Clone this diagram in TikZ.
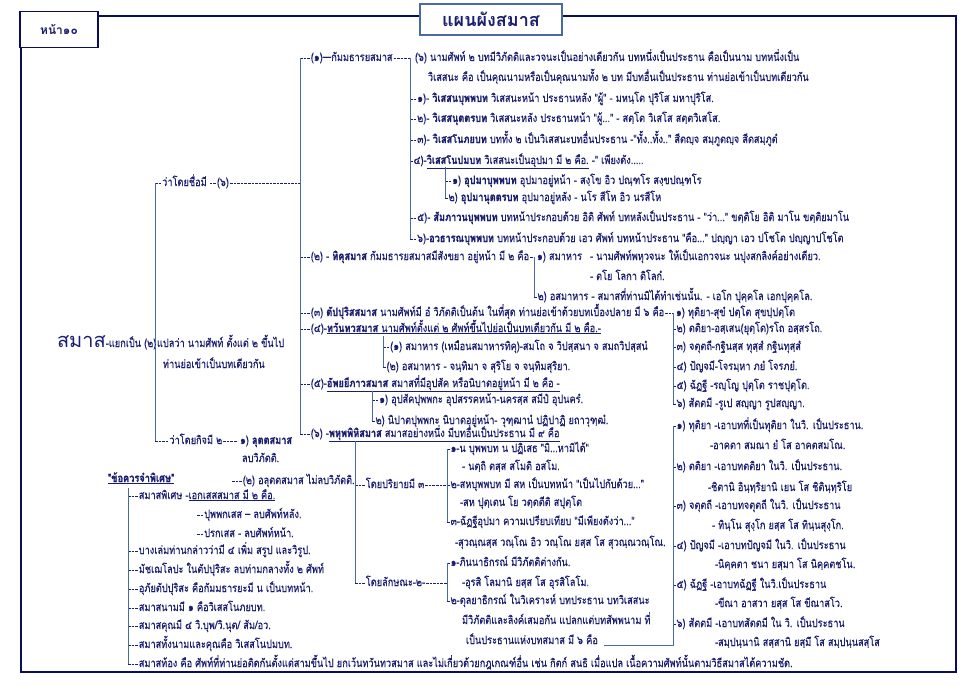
\documentclass[tikz,border=0pt]{standalone}
\usepackage{fontspec}
\usetikzlibrary{calc}
\newfontfamily\thaif[Script=Thai,FakeStretch=0.8,UprightFeatures={FakeBold=0.3},BoldFeatures={FakeBold=0.7}]{Loma}
\newfontfamily\thaiw[Script=Thai]{Loma}
\definecolor{ink}{RGB}{26,30,112}
\definecolor{navy}{RGB}{12,12,92}
\definecolor{steel}{RGB}{75,105,165}
\ExplSyntaxOn
\cs_new:Npn \hyn #1 {\prg_replicate:nn{#1}{\rule[2.7pt]{2.6pt}{0.7pt}\kern1pt}}
\ExplSyntaxOff
\tikzset{
 txb/.style={anchor=base west, inner sep=0pt, outer sep=0pt, text=ink, font=\thaif\fontsize{11.5}{13}\selectfont},
 tx/.style={txb, yshift=-4pt},
 br/.style={draw=steel, line width=0.9pt},
 hd/.style={draw=ink, line width=0.7pt, dash pattern=on 2.6pt off 1pt},
 frm/.style={draw=navy, line width=1.6pt},
}
\begin{document}
\begin{tikzpicture}[x=1pt,y=-1pt]
\useasboundingbox[fill=white] (0,0) rectangle (969,690);
% header and frame
\node[draw=navy, line width=1.5pt, minimum width=78pt, minimum height=36pt, inner sep=0pt, text=ink, font=\thaiw\bfseries\fontsize{12}{14}\selectfont] (pg) at (59,29.5) {หน้า๑๐};
\node[draw=steel, line width=2pt, fill=white, minimum width=142pt, minimum height=31pt, inner sep=0pt, text=ink, font=\thaiw\bfseries\fontsize{18}{20}\selectfont] (ttl) at (491,19.5) {แผนผังสมาส};
\draw[frm] (pg.east |- 0,16) -- (ttl.west |- 0,16);
\draw[frm] (ttl.east |- 0,16) -- (956,16) -- (956,672) -- ($(pg.south west |- 0,672)+(2,0)$) -- ($(pg.south west)+(2,0)$);

% left root
\node[tx, font=\thaiw\fontsize{20}{22}\selectfont] (s0) at (57,343) {สมาส};
\node[txb] (s1) at (s0.base east) {-แยกเป็น (๒)};
\node[tx] (a1) at (155,182) {\hyn{2}ว่าโดยชื่อมี \hyn{2}(๖)};
\node[tx] (s2) at (157,343) {แปลว่า นามศัพท์ ตั้งแต่ ๒ ขึ้นไป};
\node[tx] (s3) at (163,364) {ท่านย่อเข้าเป็นบทเดียวกัน};
\node[tx] (a2) at (155,440) {\hyn{4}ว่าโดยกิจมี ๒};
\node[tx] (l1) at (240,440) {๑) \textbf{ลุตตสมาส}};
\node[tx] (l1b) at (242,458) {ลบวิภัตติ.};
\node[tx] (l2) at (232,480) {\hyn{3}(๒) อลุตตสมาส ไม่ลบวิภัตติ.};
\draw[br] ($(a1.base west)+(0,-3)$) -- ($(a2.base west)+(0,-3)$);
\draw[hd] ($(s1.base east)+(0,-3)$) -- ($(a1.base west |- s1.base)+(0,-3)$);
\draw[hd] ($(a2.base east)+(1,-3)$) -- ($(l1.base west)+(-3,-3)$);

% main branches
\node[tx] (g1) at (300,57) {\hyn{3}(๑)—กัมมธารยสมาส};
\node[tx] (g2) at (300,256) {\hyn{3}(๒) - \textbf{ทิคุสมาส} กัมมธารยสมาสมีสังขยา อยู่หน้า มี ๒ คือ};
\node[tx] (g3) at (300,312) {\hyn{3}(๓) \textbf{ตัปปุริสสมาส} นามศัพท์มี อํ วิภัตติเป็นต้น ในที่สุด ท่านย่อเข้าด้วยบทเบื้องปลาย มี ๖ คือ};
\node[tx] (g4) at (300,328) {\hyn{3}(๔)-\underline{\textbf{ทวันทวสมาส}  นามศัพท์ตั้งแต่ ๒ ศัพท์ขึ้นไปย่อเป็นบทเดียวกัน  มี ๒ คือ.-}};
\node[tx] (g5) at (300,383) {\hyn{3}(๕)-\underline{\textbf{อัพยยีภาวสมาส} สมาสที่มีอุปสัค หรือนิบาตอยู่หน้า มี ๒ คือ -}};
\node[tx] (g6) at (300,433) {\hyn{3}(๖) -\underline{\textbf{พหุพพิหิสมาส} สมาสอย่างหนึ่ง มีบทอื่นเป็นประธาน มี ๙ คือ}};
\draw[br] ($(g1.base west)+(0,-3)$) -- ($(g6.base west)+(0,-3)$);
\draw[hd] ($(a1.base east)+(1,-3)$) -- ($(g1.base west |- a1.base)+(0,-3)$);

% kammadharaya
\node[tx] (k0) at (415,57) {(๖) นามศัพท์ ๒ บทมีวิภัตติและวจนะเป็นอย่างเดียวกัน  บทหนึ่งเป็นประธาน  คือเป็นนาม บทหนึ่งเป็น};
\node[tx] (k0b) at (428,77) {วิเสสนะ คือ เป็นคุณนามหรือเป็นคุณนามทั้ง  ๒ บท มีบทอื่นเป็นประธาน  ท่านย่อเข้าเป็นบทเดียวกัน};
\node[tx] (k1) at (410,98) {\hyn{2}๑)- \textbf{วิเสสนบุพพบท} วิเสสนะหน้า ประธานหลัง "ผู้" - มหนฺโต ปุริโส มหาปุริโส.};
\node[tx] (k2) at (410,118) {\hyn{2}๒)- \textbf{วิเสสนุตตรบท} วิเสสนะหลัง ประธานหน้า "ผู้..." - สตฺโต วิเสโส สตฺตวิเสโส.};
\node[tx] (k3) at (410,139) {\hyn{2}๓)- \textbf{วิเสสโนภยบท} บททั้ง ๒ เป็นวิเสสนะบทอื่นประธาน  -"ทั้ง..ทั้ง.."  สีตญฺจ สมฺภูตญฺจ สีตสมฺภูตํ};
\node[tx] (k4) at (410,160) {\hyn{1}๔)-\underline{\textbf{วิเสสโนปมบท}  วิเสสนะเป็นอุปมา มี ๒ คือ.} -" เพียงดัง.....};
\node[tx] (k41) at (445,180) {\hyn{2}๑) \textbf{อุปมาบุพพบท}  อุปมาอยู่หน้า - สงฺโข อิว ปณฺฑโร  สงฺขปณฺฑโร};
\node[tx] (k42) at (445,197) {\hyn{1}๒) \textbf{อุปมานุตตรบท}  อุปมาอยู่หลัง - นโร สีโห อิว นรสีโห};
\node[tx] (k5) at (410,217) {\hyn{2}๕)- \textbf{สัมภาวนบุพพบท} บทหน้าประกอบด้วย อิติ ศัพท์ บทหลังเป็นประธาน  - "ว่า..." ขตฺติโย อิติ มาโน ขตฺติยมาโน};
\node[tx] (k6) at (410,238) {\hyn{2}๖)-\textbf{อวธารณบุพพบท}  บทหน้าประกอบด้วย เอว ศัพท์  บทหน้าประธาน  "คือ..." ปญฺญา เอว ปโชโต ปญฺญาปโชโต};
\draw[hd] ($(g1.base east)+(1,-3)$) -- ($(k1.base west |- g1.base)+(0,-3)$);
\draw[br] ($(k1.base west |- g1.base)+(0,-3)$) -- ($(k6.base west)+(0,-3)$);
\draw[br] ($(k41.base west |- k4.base)+(0,3)$) -- ($(k42.base west)+(0,-3)$);

% digu
\node[tx] (d1) at (537,256) {๑) สมาหาร};
\node[tx] (d1b) at (590,256) {- นามศัพท์พหุวจนะ  ให้เป็นเอกวจนะ  นปุงสกลิงค์อย่างเดียว.};
\node[tx] (d1c) at (590,276) {- ตโย โลกา ติโลกํ.};
\node[tx] (d2) at (534,296) {\hyn{1}๒) อสมาหาร - สมาสที่ท่านมิได้ทำเช่นนั้น.  - เอโก ปุคฺคโล เอกปุคฺคโล.};
\draw[hd] ($(g2.base east)+(1,-3)$) -- ($(d2.base west |- g2.base)+(0,-3)$);
\draw[br] ($(d2.base west |- g2.base)+(0,-3)$) -- ($(d2.base west)+(0,-3)$);

% tappurisa
\node[tx] (t1) at (676,312) {๑) ทุติยา-สุขํ ปตฺโต สุขปฺปตฺโต};
\node[tx] (t2) at (673,328) {\hyn{1}๒) ตติยา-อสฺเสน(ยุตฺโต)รโถ อสฺสรโถ.};
\node[tx] (t3) at (673,346) {\hyn{1}๓) จตุตถี-กฐินสฺส ทุสฺสํ กฐินทุสฺสํ};
\node[tx] (t4) at (673,366) {\hyn{1}๔) ปัญจมี-โจรมฺหา ภยํ โจรภยํ.};
\node[tx] (t5) at (673,385) {\hyn{1}๕) ฉัฏฐี -รญฺโญ ปุตฺโต ราชปุตฺโต.};
\node[tx] (t6) at (673,403) {\hyn{1}๖) สัตตมี -รูเป สญฺญา รูปสญฺญา.};
\draw[hd] ($(g3.base east)+(1,-3)$) -- ($(t1.base west)+(-2,-3)$);
\draw[br] ($(t2.base west |- t1.base)+(0,-3)$) -- ($(t6.base west)+(0,-3)$);

% dvanda
\node[tx] (w1) at (383,346) {\hyn{2}(๑) สมาหาร (เหมือนสมาหารทิคุ)-สมโถ จ วิปสฺสนา จ สมถวิปสฺสนํ};
\node[tx] (w2) at (383,366) {\hyn{1}(๒)  อสมาหาร - จนฺทิมา จ สุริโย จ จนฺทิมสุริยา.};
\draw[br] ($(w1.base west |- g4.base)+(0,4)$) -- ($(w2.base west)+(0,-3)$);

% abyayibhava
\node[tx] (v1) at (372,399) {\hyn{2}๑) อุปสัคปุพพกะ อุปสรรคหน้า-นครสฺส สมีปํ อุปนครํ.};
\node[tx] (v2) at (372,420) {\hyn{1}๒) นิปาตปุพพกะ นิบาตอยู่หน้า- วุฑฺฒานํ ปฏิปาฏิ ยถาวุฑฺฒํ.};
\draw[br] ($(v1.base west |- g5.base)+(0,4)$) -- ($(v2.base west)+(0,-3)$);

% bahubbihi
\node[tx] (p1) at (355,484) {\hyn{3}โดยปริยายมี ๓};
\node[tx] (p2) at (355,582) {\hyn{3}โดยลักษณะ-๒-};
\draw[br] ($(p1.base west |- g6.base)+(0,4)$) -- ($(p2.base west)+(0,-3)$);
\node[tx] (q1) at (447,448) {\hyn{1}๑-น บุพพบท  น ปฏิเสธ "มิ...หามิได้"};
\node[tx] (q1b) at (462,466) {- นตฺถิ ตสฺส สโมติ อสโม.};
\node[tx] (q2) at (447,484) {\hyn{1}๒-สหบุพพบท  มี สห เป็นบทหน้า  "เป็นไปกับด้วย..."};
\node[tx] (q2b) at (460,502) {-สห ปุตฺเตน โย วตฺตตีติ สปุตฺโต};
\node[tx] (q3) at (447,521) {\hyn{1}๓-ฉัฏฐีอุปมา ความเปรียบเทียบ "มีเพียงดังว่า..."};
\node[tx] (q3b) at (455,542) {-สุวณฺณสฺส วณฺโณ อิว วณฺโณ ยสฺส โส สุวณฺณวณฺโณ.};
\draw[hd] ($(p1.base east)+(1,-3)$) -- ($(q2.base west)+(0,-3)$);
\draw[br] ($(q1.base west)+(0,-3)$) -- ($(q3.base west)+(0,-3)$);
\node[tx] (r1) at (447,562) {\hyn{1}๑-ภินนาธิกรณ์ มีวิภัตติต่างกัน.};
\node[tx] (r1b) at (462,582) {-อุรสิ โลมานิ ยสฺส โส อุรสิโลโม.};
\node[tx] (r2) at (447,600) {\hyn{1}๒-ตุลยาธิกรณ์ ในวิเคราะห์ บทประธาน  บทวิเสสนะ};
\node[tx] (r2b) at (462,620) {มีวิภัตติและลิงค์เสมอกัน แปลกแต่บทสัพพนาม  ที่};
\node[tx] (r2c) at (466,640) {เป็นประธานแห่งบทสมาส  มี ๖ คือ};
\draw[hd] ($(p2.base east)+(1,-3)$) -- ($(r1.base west |- p2.base)+(0,-3)$);
\draw[br] ($(r1.base west)+(0,-3)$) -- ($(r2.base west)+(0,-3)$);

\node[tx] (b1) at (673,425) {\hyn{1}๑) ทุติยา -เอาบทที่เป็นทุติยา  ในวิ. เป็นประธาน.};
\node[tx] (b1b) at (710,445) {-อาคตา สมณา ยํ โส อาคตสมโณ.};
\node[tx] (b2) at (673,466) {\hyn{1}๒) ตติยา -เอาบทตติยา ในวิ. เป็นประธาน.};
\node[tx] (b2b) at (708,487) {-ชิตานิ อินฺทฺริยานิ เยน โส ชิตินฺทฺริโย};
\node[tx] (b3) at (673,505) {\hyn{1}๓) จตุตถี -เอาบทจตุตถี ในวิ. เป็นประธาน};
\node[tx] (b3b) at (712,525) {- ทินฺโน สุงฺโก ยสฺส โส ทินฺนสุงฺโก.};
\node[tx] (b4) at (673,545) {\hyn{1}๔) ปัญจมี  -เอาบทปัญจมี ในวิ. เป็นประธาน};
\node[tx] (b4b) at (715,564) {-นิคฺคตา ชนา ยสฺมา โส นิคฺคตชโน.};
\node[tx] (b5) at (673,584) {\hyn{1}๕) ฉัฏฐี -เอาบทฉัฏฐี  ในวิ.เป็นประธาน};
\node[tx] (b5b) at (715,603) {-ขีณา อาสวา ยสฺส โส ขีณาสโว.};
\node[tx] (b6) at (673,623) {\hyn{1}๖) สัตตมี -เอาบทสัตตมี  ใน วิ. เป็นประธาน};
\node[tx] (b6b) at (715,642) {-สมฺปนฺนานิ  สสฺสานิ ยสฺมึ โส สมฺปนฺนสสฺโส};
\draw[br] ($(b1.base west)+(0,-3)$) -- ($(b1.base west |- r2c.base)+(0,1)$) -- ($(r2c.base east)+(6,1)$);

% notes
\node[tx] (n0) at (108,478) {\underline{\textbf{"ข้อควรจำพิเศษ"}}};
\node[tx] (n1) at (128,495) {\hyn{3} สมาสพิเศษ  -\underline{เอกเสสสมาส มี ๒ คือ.}};
\node[tx] (n1a) at (197,514) {\hyn{2}ปุพพกเสส  – ลบศัพท์หลัง.};
\node[tx] (n1b) at (197,533) {\hyn{2}ปรกเสส     - ลบศัพท์หน้า.};
\node[tx] (n2) at (128,550) {\hyn{3} บางเล่มท่านกล่าวว่ามี ๔ เพิ่ม สรูป และวิรูป.};
\node[tx] (n3) at (128,569) {\hyn{3} มัชเฌโลปะ ในตัปปุริสะ ลบท่ามกลางทั้ง ๒ ศัพท์};
\node[tx] (n4) at (128,588) {\hyn{3} อุภัยตัปปุริสะ คือกัมมธารยะมี น เป็นบทหน้า.};
\node[tx] (n5) at (128,607) {\hyn{3} สมาสนามมี ๑ คือวิเสสโนภยบท.};
\node[tx] (n6) at (128,625) {\hyn{3} สมาสคุณมี ๔ วิ.บุพ/วิ.นุต/  สัม/อว.};
\node[tx] (n7) at (128,644) {\hyn{3} สมาสทั้งนามและคุณคือ  วิเสสโนปมบท.};
\node[tx] (n8) at (128,663) {\hyn{3} สมาสท้อง คือ ศัพท์ที่ท่านย่อติดกันตั้งแต่สามขึ้นไป  ยกเว้นทวันทวสมาส  และไม่เกี่ยวด้วยกฎเกณฑ์อื่น เช่น กิตก์ สนธิ เมื่อแปล เนื้อความศัพท์นั้นตามวิธีสมาสได้ความชัด.};
\draw[br] ($(n1.base west |- n0.base)+(0,6)$) -- ($(n8.base west)+(0,-3)$);
\end{tikzpicture}
\end{document}
